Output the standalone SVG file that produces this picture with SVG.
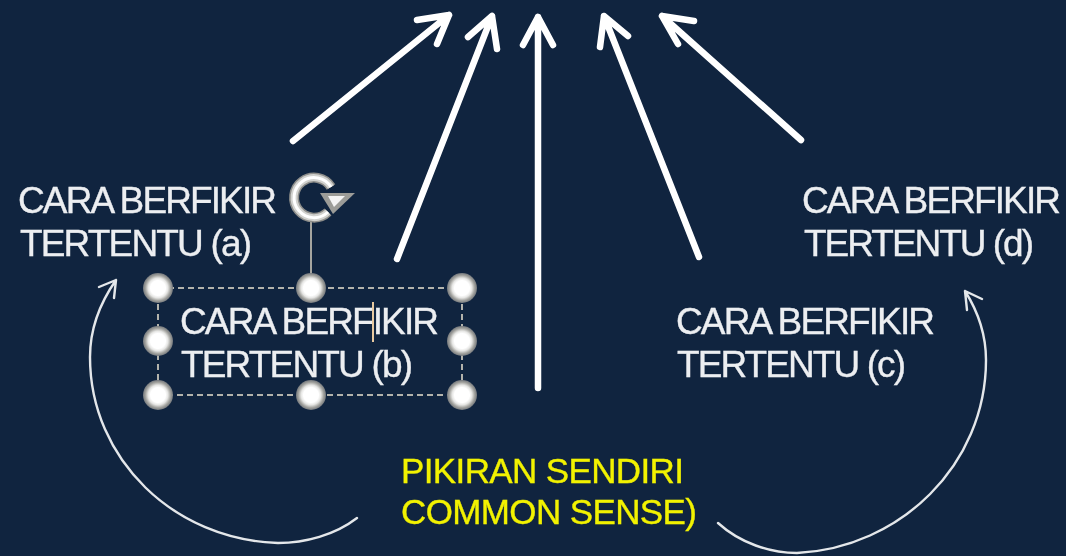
<svg xmlns="http://www.w3.org/2000/svg" width="1066" height="556" viewBox="0 0 1066 556">
<defs>
<filter id="soft" x="0" y="0" width="1066" height="556" filterUnits="userSpaceOnUse"><feGaussianBlur stdDeviation="0.6"/></filter>
<filter id="softer" x="270" y="160" width="100" height="80" filterUnits="userSpaceOnUse"><feGaussianBlur stdDeviation="0.7"/></filter>
<radialGradient id="hg"><stop offset="0.5" stop-color="#ffffff"/><stop offset="0.66" stop-color="#e6e6e4"/><stop offset="0.84" stop-color="#a3a39f"/><stop offset="1" stop-color="#74787c"/></radialGradient>
</defs>
<style>
.t{font-family:"Liberation Sans",Arial,sans-serif;font-size:37px;fill:#eceef1;stroke:#eceef1;stroke-width:.35}
.y{fill:#f2f200;stroke:#f2f200;font-size:35px}
.big{fill:none;stroke:#fff;stroke-width:6.5;stroke-linecap:round;stroke-linejoin:round}
.thin{fill:none;stroke:#e4e7ea;stroke-width:2.4;stroke-linecap:round;stroke-linejoin:round}
.sel{stroke:#b3b3ac;stroke-width:2;stroke-dasharray:6 4;fill:none}
.h{fill:url(#hg)}
</style>
<rect width="1066" height="556" fill="#10243f"/>
<g filter="url(#soft)">
<g id="connectors">
<path class="big" d="M293 141L449 15M417 20L449 15L437 44"/>
<path class="big" d="M397 259L492 16M468 37L492 16L497 49"/>
<path class="big" d="M538 388V17M523 45L538 17L553 45"/>
<path class="big" d="M699 257L604 16M600 47L604 16L628 36"/>
<path class="big" d="M801 140L662 16M694 21L662 16L678 44"/>
<path class="thin" d="M357 518C335 535 305 543 278 543C175 540 90 460 90 357C90 328 100 303 116 280M99 287L116 280L114 298"/>
<path class="thin" d="M718 523C740 543 770 553 797 553C900 548 986 465 986 360C986 335 977 310 965 291M982 299L965 291L967 310"/>
</g>
<g id="node-a"><text class="t"><tspan x="18" y="213" textLength="259">CARA BERFIKIR</tspan><tspan x="20" y="256" textLength="232">TERTENTU (a)</tspan></text></g>
<g id="node-b">
<text class="t"><tspan x="180" y="334" textLength="259">CARA BERFIKIR</tspan><tspan x="181" y="377" textLength="232">TERTENTU (b)</tspan></text>
<path d="M373 302V342" stroke="#e8c9a0" stroke-width="2"/>
<path class="sel" d="M158 288H462V395H158Z"/>
<path d="M311 222V288" stroke="#a5a5a0" stroke-width="2"/>
<g>
<circle class="h" cx="158" cy="288" r="15"/><circle class="h" cx="311" cy="288" r="15"/><circle class="h" cx="462" cy="288" r="15"/>
<circle class="h" cx="158" cy="341" r="15"/><circle class="h" cx="462" cy="341" r="15"/>
<circle class="h" cx="158" cy="395" r="15"/><circle class="h" cx="311" cy="395" r="15"/><circle class="h" cx="462" cy="395" r="15"/>
</g>
<g id="rotate-handle" filter="url(#softer)">
<path d="M331 187A20 20 0 1 0 328 212" fill="none" stroke="#8e8e8b" stroke-width="10"/>
<path d="M331 187A20 20 0 1 0 328 212" fill="none" stroke="#d2d2cf" stroke-width="7"/>
<path d="M331 187A20 20 0 1 0 328 212" fill="none" stroke="#fff" stroke-width="3"/>
<path d="M320 193L355 193L333 214Z" fill="#9c9c98"/>
<path d="M328 196L345 196L334 207Z" fill="#f4f4f4"/>
</g>
</g>
<g id="node-c"><text class="t"><tspan x="676" y="334" textLength="259">CARA BERFIKIR</tspan><tspan x="677" y="377" textLength="229">TERTENTU (c)</tspan></text></g>
<g id="node-d"><text class="t"><tspan x="802" y="213" textLength="259">CARA BERFIKIR</tspan><tspan x="804" y="256" textLength="230">TERTENTU (d)</tspan></text></g>
<g id="node-main"><text class="t y"><tspan x="401" y="483" textLength="283">PIKIRAN SENDIRI</tspan><tspan x="401" y="524" textLength="296">COMMON SENSE)</tspan></text></g>
</g>
</svg>
